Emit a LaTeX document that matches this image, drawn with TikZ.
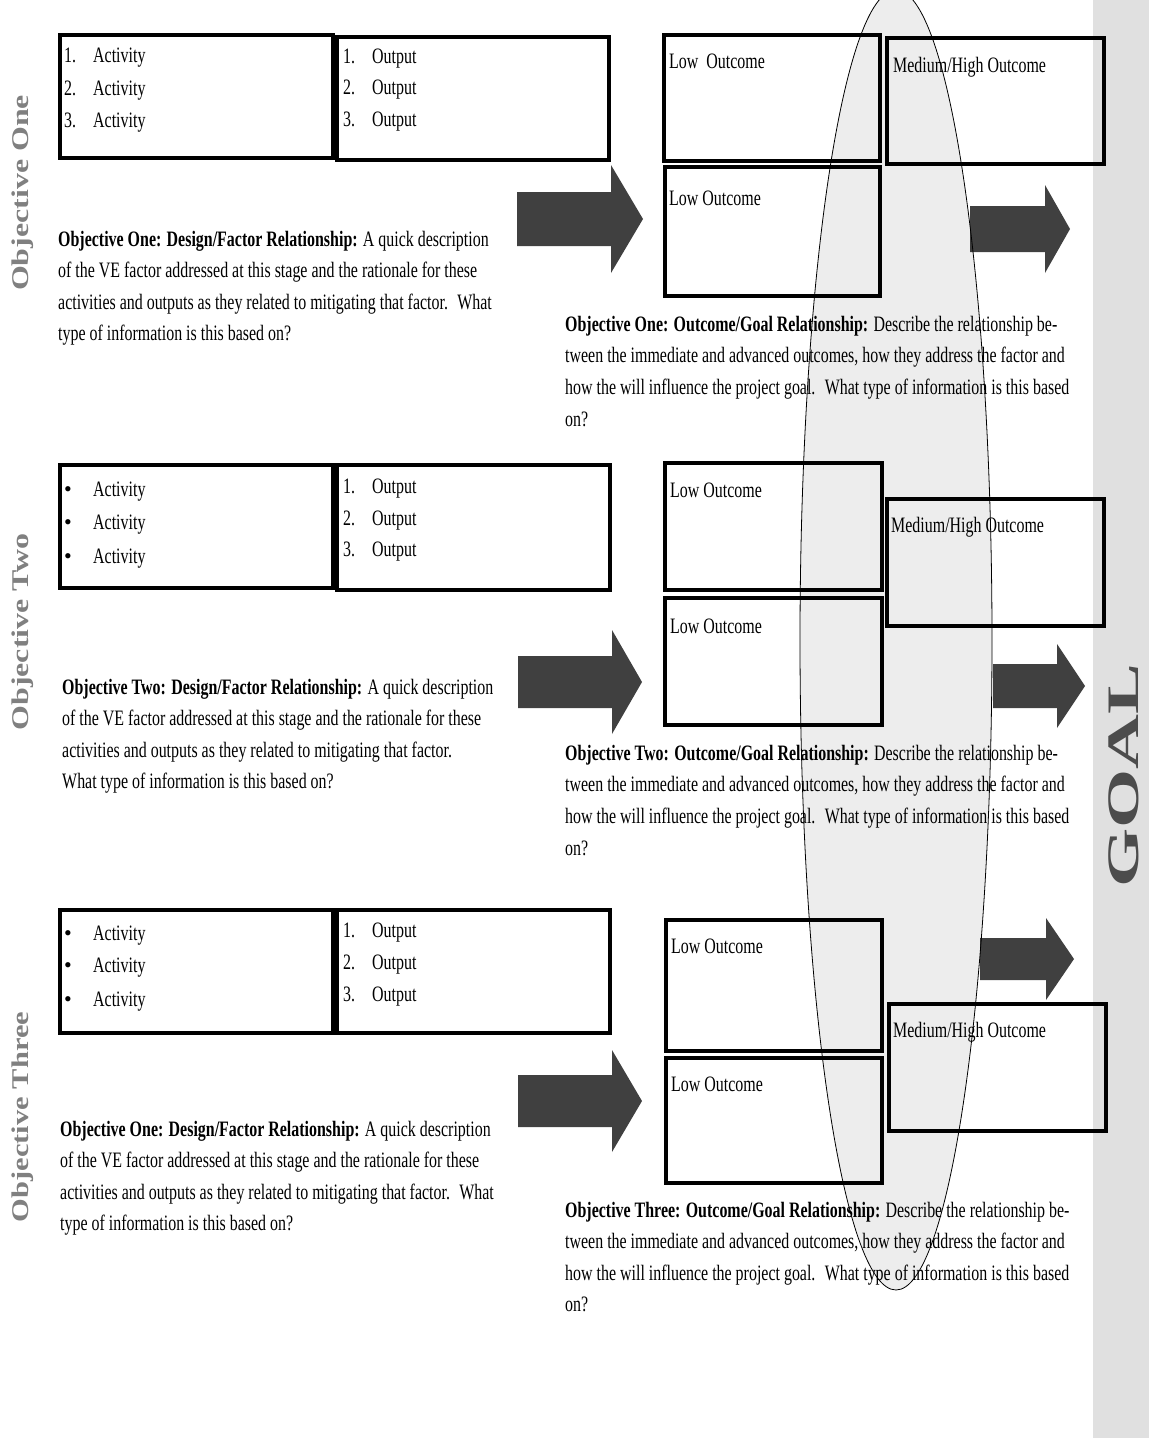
\documentclass[tikz,border=0pt]{standalone}
\usepackage{fontspec}
\usepackage{graphicx}
\setmainfont{Liberation Serif}[FakeStretch=0.725]
\newfontfamily\plainserif{Liberation Serif}
\usetikzlibrary{fit}
\tikzset{
  box/.style={draw=black, line width=4.5pt, inner sep=0pt},
  txt/.style={anchor=base west, inner sep=0pt, font=\fontsize{22}{31}\selectfont},
  bul/.style={anchor=base west, inner sep=0pt, font=\plainserif\fontsize{22}{31}\selectfont},
  darrow/.style={fill=black!75},
  sidelabel/.style={rotate=90, inner sep=0pt, text=black!50, font=\plainserif\bfseries\fontsize{24}{24}\selectfont},
}
\newcommand\blockarrow[6]{%
  \fill[darrow] (#1,#4-#5) -- (#2,#4-#5) -- (#2,#4-#6) -- (#3,#4) -- (#2,#4+#6) -- (#2,#4+#5) -- (#1,#4+#5) -- cycle;}
\begin{document}
\begin{tikzpicture}[x=1pt,y=-1pt]
\useasboundingbox (0,0) rectangle (1149,1438);
\fill[white] (0,0) rectangle (1149,1438);
\fill[black!12] (1093,0) rectangle (1149,1438);

% ---------- Row 1 ----------
\node[box, fit={(60,35)(333,158)}] (a1) {};
\node[box, fit={(337,37)(609,160)}] (o1) {};
\node[box, fit={(664,35)(880,161)}] (l11) {};
\node[box, fit={(665,167)(880,296)}] (l12) {};
\node[box, fit={(887,38)(1104,164)}] (m1) {};

\node[txt] (a1n1) at (64,62) {1.};  \node[txt] (a1t1) at (93,62) {Activity};
\node[txt] (a1n2) at (64,95) {2.};  \node[txt] (a1t2) at (93,95) {Activity};
\node[txt] (a1n3) at (64,127) {3.}; \node[txt] (a1t3) at (93,127) {Activity};
\node[txt] (o1n1) at (343,63) {1.};  \node[txt] (o1t1) at (372,63) {Output};
\node[txt] (o1n2) at (343,94) {2.};  \node[txt] (o1t2) at (372,94) {Output};
\node[txt] (o1n3) at (343,126) {3.}; \node[txt] (o1t3) at (372,126) {Output};
\node[txt] (l11t) at (669,68) {Low~ Outcome};
\node[txt] (l12t) at (669,205) {Low Outcome};
\node[txt] (m1t) at (893,72) {Medium/High Outcome};

\blockarrow{517}{611}{643}{219}{27}{54}
\blockarrow{970}{1045}{1070}{229}{23}{44}

\node[txt] (p1a) at (58,246) {\textbf{Objective One: Design/Factor Relationship:} A quick description};
\node[txt] (p1b) at (58,277) {of the VE factor addressed at this stage and the rationale for these};
\node[txt] (p1c) at (58,309) {activities and outputs as they related to mitigating that factor.~ What};
\node[txt] (p1d) at (58,340) {type of information is this based on?};

\node[txt] (q1a) at (565,331) {\textbf{Objective One: Outcome/Goal Relationship:} Describe the relationship be-};
\node[txt] (q1b) at (565,362) {tween the immediate and advanced outcomes, how they address the factor and};
\node[txt] (q1c) at (565,394) {how the will influence the project goal.~ What type of information is this based};
\node[txt] (q1d) at (565,426) {on?};

% ---------- Row 2 ----------
\node[box, fit={(60,465)(333,588)}] (a2) {};
\node[box, fit={(337,465)(610,590)}] (o2) {};
\node[box, fit={(665,463)(882,590)}] (l21) {};
\node[box, fit={(665,598)(882,725)}] (l22) {};
\node[box, fit={(887,499)(1104,626)}] (m2) {};

\node[bul] (a2n1) at (64,496) {\textbullet}; \node[txt] (a2t1) at (93,496) {Activity};
\node[bul] (a2n2) at (64,529) {\textbullet}; \node[txt] (a2t2) at (93,529) {Activity};
\node[bul] (a2n3) at (64,563) {\textbullet}; \node[txt] (a2t3) at (93,563) {Activity};
\node[txt] (o2n1) at (343,493) {1.};  \node[txt] (o2t1) at (372,493) {Output};
\node[txt] (o2n2) at (343,525) {2.};  \node[txt] (o2t2) at (372,525) {Output};
\node[txt] (o2n3) at (343,556) {3.};  \node[txt] (o2t3) at (372,556) {Output};
\node[txt] (l21t) at (670,497) {Low Outcome};
\node[txt] (l22t) at (670,633) {Low Outcome};
\node[txt] (m2t) at (891,532) {Medium/High Outcome};

\blockarrow{518}{612}{642}{682}{26}{52}
\blockarrow{993}{1057}{1085}{686}{22}{42}

\node[txt] (p2a) at (62,694) {\textbf{Objective Two: Design/Factor Relationship:} A quick description};
\node[txt] (p2b) at (62,725) {of the VE factor addressed at this stage and the rationale for these};
\node[txt] (p2c) at (62,757) {activities and outputs as they related to mitigating that factor.};
\node[txt] (p2d) at (62,788) {What type of information is this based on?};

\node[txt] (q2a) at (565,760) {\textbf{Objective Two: Outcome/Goal Relationship:} Describe the relationship be-};
\node[txt] (q2b) at (565,791) {tween the immediate and advanced outcomes, how they address the factor and};
\node[txt] (q2c) at (565,823) {how the will influence the project goal.~ What type of information is this based};
\node[txt] (q2d) at (565,855) {on?};

% ---------- Row 3 ----------
\node[box, fit={(60,910)(333,1033)}] (a3) {};
\node[box, fit={(337,910)(610,1033)}] (o3) {};
\node[box, fit={(666,920)(882,1051)}] (l31) {};
\node[box, fit={(666,1058)(882,1183)}] (l32) {};
\node[box, fit={(889,1004)(1106,1131)}] (m3) {};

\node[bul] (a3n1) at (64,940) {\textbullet};  \node[txt] (a3t1) at (93,940) {Activity};
\node[bul] (a3n2) at (64,972) {\textbullet};  \node[txt] (a3t2) at (93,972) {Activity};
\node[bul] (a3n3) at (64,1006) {\textbullet}; \node[txt] (a3t3) at (93,1006) {Activity};
\node[txt] (o3n1) at (343,937) {1.};  \node[txt] (o3t1) at (372,937) {Output};
\node[txt] (o3n2) at (343,969) {2.};  \node[txt] (o3t2) at (372,969) {Output};
\node[txt] (o3n3) at (343,1001) {3.}; \node[txt] (o3t3) at (372,1001) {Output};
\node[txt] (l31t) at (671,953) {Low Outcome};
\node[txt] (l32t) at (671,1091) {Low Outcome};
\node[txt] (m3t) at (893,1037) {Medium/High Outcome};

\blockarrow{518}{612}{642}{1101}{26}{51}
\blockarrow{980}{1046}{1074}{959}{21}{41}

\node[txt] (p3a) at (60,1136) {\textbf{Objective One: Design/Factor Relationship:} A quick description};
\node[txt] (p3b) at (60,1167) {of the VE factor addressed at this stage and the rationale for these};
\node[txt] (p3c) at (60,1199) {activities and outputs as they related to mitigating that factor.~ What};
\node[txt] (p3d) at (60,1230) {type of information is this based on?};

\node[txt] (q3a) at (565,1217) {\textbf{Objective Three: Outcome/Goal Relationship:} Describe the relationship be-};
\node[txt] (q3b) at (565,1248) {tween the immediate and advanced outcomes, how they address the factor and};
\node[txt] (q3c) at (565,1280) {how the will influence the project goal.~ What type of information is this based};
\node[txt] (q3d) at (565,1311) {on?};

% ---------- side labels ----------
\node[sidelabel] (lab1) at (23,193) {\scalebox{1.33}[1]{Objective One}};
\node[sidelabel] (lab2) at (23,632) {\scalebox{1.33}[1]{Objective Two}};
\node[sidelabel] (lab3) at (23,1117) {\scalebox{1.27}[1]{Objective Three}};

% ---------- ellipse ----------
\draw[line width=0.8pt, fill=black, fill opacity=0.07] (896,640) ellipse [x radius=96, y radius=650];

% ---------- GOAL ----------
\node[rotate=90, inner sep=0pt, text=black!70, font=\plainserif\bfseries\fontsize{45}{45}\selectfont] (goal) at (1124,776) {\scalebox{1.69}[1]{GOAL}};
\end{tikzpicture}
\end{document}
